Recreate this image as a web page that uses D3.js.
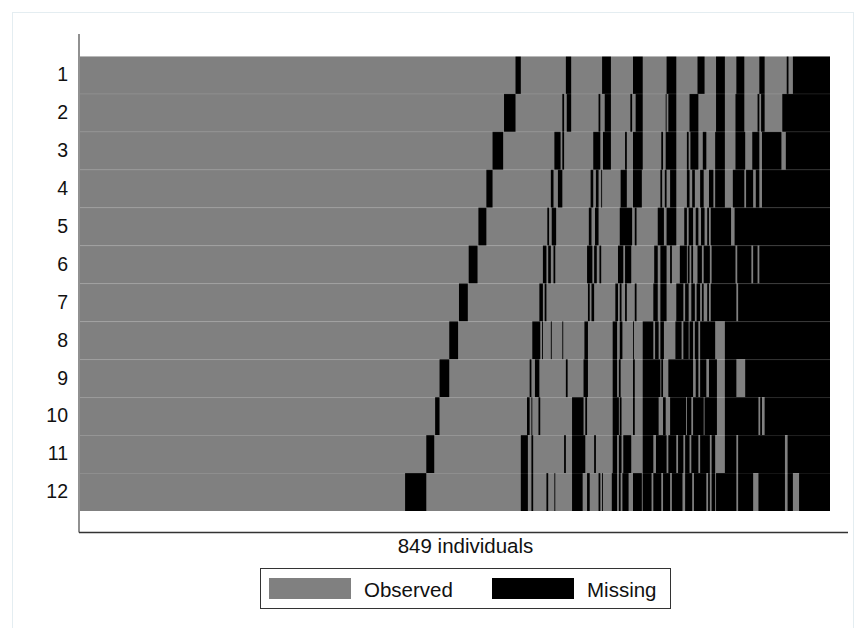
<!DOCTYPE html>
<html>
<head>
<meta charset="utf-8">
<script src="https://cdn.jsdelivr.net/npm/d3@7"></script>
<style>
  body { margin: 0; background: #fff; }
  svg { display: block; font-family: "Liberation Sans", Arial, sans-serif; }
</style>
</head>
<body>
<svg id="chart" width="859" height="628"></svg>
<script>
// number of individuals (x axis) and the 12 waves (rows)
const nIndividuals = 849;
const waves = ["1", "2", "3", "4", "5", "6", "7", "8", "9", "10", "11", "12"];

// missing stretches per wave, as [first individual, last individual)
const wave1 = [[493,499],[550,556],[591,601],[626,637],[664,675],[699,707],[720,730],[743,752],[769,775],[800,802],[807,849]];
const wave2 = [[480,493],[546,548],[551,556],[587,589],[594,601],[623,625],[629,637],[663,664],[666,675],[690,700],[720,730],[742,752],[767,769],[771,775],[795,849]];
const wave3 = [[467,479],[537,544],[546,548],[581,589],[592,601],[617,619],[626,637],[658,660],[663,675],[687,689],[691,700],[705,709],[719,730],[742,753],[761,769],[772,794],[799,849]];
const wave4 = [[460,467],[533,536],[541,546],[578,581],[584,587],[590,591],[612,619],[626,636],[657,659],[662,664],[668,675],[687,690],[693,696],[702,706],[712,717],[719,730],[739,752],[754,762],[765,769],[772,849]];
const wave5 = [[451,460],[529,531],[534,539],[576,579],[583,587],[611,625],[628,630],[654,661],[664,675],[684,687],[689,694],[697,700],[703,707],[710,712],[714,737],[741,849]];
const wave6 = [[440,450],[524,528],[530,533],[536,538],[574,580],[582,585],[588,590],[609,615],[617,624],[650,654],[657,664],[668,670],[679,687],[688,690],[692,694],[699,704],[706,713],[715,742],[744,760],[762,767],[769,849]];
const wave7 = [[429,439],[520,524],[526,528],[575,577],[579,582],[606,609],[611,613],[617,619],[628,630],[649,654],[657,664],[675,683],[685,689],[692,696],[698,702],[704,706],[710,712],[714,743],[745,849]];
const wave8 = [[418,428],[512,521],[523,524],[533,534],[546,547],[571,575],[603,608],[611,614],[626,627],[637,649],[651,655],[657,661],[674,681],[683,689],[690,694],[696,700],[702,719],[730,849]];
const wave9 = [[407,418],[509,511],[515,520],[550,552],[570,575],[603,608],[610,612],[626,628],[637,657],[658,660],[666,694],[697,700],[702,709],[712,721],[730,743],[753,849]];
const wave10 = [[402,407],[506,509],[511,512],[519,521],[557,570],[572,574],[603,610],[611,613],[626,628],[637,655],[660,663],[668,686],[687,692],[694,706],[707,721],[730,768],[770,772],[775,849]];
const wave11 = [[392,401],[499,507],[511,513],[548,550],[557,572],[582,584],[603,608],[610,613],[615,624],[637,649],[652,664],[666,675],[677,683],[685,690],[692,700],[702,713],[715,719],[730,743],[745,798],[801,849]];
const wave12 = [[368,392],[499,507],[511,513],[528,530],[537,538],[557,569],[574,577],[587,589],[591,592],[602,608],[610,612],[614,621],[626,636],[637,647],[649,658],[660,668],[670,682],[685,693],[695,709],[711,713],[715,719],[720,743],[745,762],[768,798],[801,807],[814,849]];

const missingByWave = [wave1, wave2, wave3, wave4, wave5, wave6, wave7, wave8, wave9, wave10, wave11, wave12];

const legendItems = ["Observed", "Missing"];
const observedColor = "#808080";
const missingColor = "#000000";

const svg = d3.select("#chart");

// outer graph region frame
svg.append("rect")
    .attr("x", 12.5).attr("y", 12.5)
    .attr("width", 841).attr("height", 620)
    .attr("fill", "#fff")
    .attr("stroke", "#e4edf1");

const x = d3.scaleLinear().domain([0, nIndividuals]).range([80, 830]);
const y = d3.scaleBand().domain(waves).range([56, 511]).padding(0);

// one gray bar per wave, black pieces on top for the missing stretches
const rowsG = svg.append("g");
waves.forEach((w, i) => {
    const g = rowsG.append("g");
    g.append("rect")
        .attr("x", x(0))
        .attr("y", y(w))
        .attr("width", x(nIndividuals) - x(0))
        .attr("height", y.bandwidth())
        .attr("fill", observedColor);
    g.selectAll("rect.miss")
        .data(missingByWave[i])
        .enter()
        .append("rect")
        .attr("class", "miss")
        .attr("x", d => x(d[0]))
        .attr("y", y(w))
        .attr("width", d => x(d[1]) - x(d[0]))
        .attr("height", y.bandwidth())
        .attr("fill", missingColor);
});

// faint row separators
svg.append("g").selectAll("line")
    .data(waves)
    .enter()
    .append("line")
    .attr("x1", x(0)).attr("x2", x(nIndividuals))
    .attr("y1", d => y(d) + 0.5).attr("y2", d => y(d) + 0.5)
    .attr("stroke", "#fff")
    .attr("stroke-opacity", d => d === "1" ? 0.45 : 0.045);

// axes
const yAxis = d3.axisLeft(y).tickSize(0).tickPadding(11);
const yg = svg.append("g")
    .attr("transform", "translate(79,0)")
    .call(yAxis);
yg.select(".domain").remove();
yg.selectAll("text")
    .attr("font-size", 19.5)
    .attr("font-family", "Liberation Sans, Arial, sans-serif")
    .attr("fill", "#111");

svg.append("line")
    .attr("x1", 79).attr("x2", 79)
    .attr("y1", 34).attr("y2", 532.5)
    .attr("stroke", "#555").attr("stroke-width", 1.3);
svg.append("line")
    .attr("x1", 79).attr("x2", 848)
    .attr("y1", 532.5).attr("y2", 532.5)
    .attr("stroke", "#333").attr("stroke-width", 1.3);

svg.append("text")
    .attr("x", (79 + 848) / 2 + 2)
    .attr("y", 553)
    .attr("text-anchor", "middle")
    .attr("font-size", 20.5)
    .attr("fill", "#111")
    .text(nIndividuals + " individuals");

// legend
const legend = svg.append("g");
legend.append("rect")
    .attr("x", 260.5).attr("y", 568.5)
    .attr("width", 410).attr("height", 40)
    .attr("fill", "#fff")
    .attr("stroke", "#333");

const legendX = [269, 492];
legendItems.forEach((name, i) => {
    legend.append("rect")
        .attr("x", legendX[i]).attr("y", 578)
        .attr("width", 82).attr("height", 21)
        .attr("fill", i === 0 ? observedColor : missingColor);
    legend.append("text")
        .attr("x", legendX[i] + 95)
        .attr("y", 596.5)
        .attr("font-size", 20.5)
        .attr("fill", "#111")
        .text(name);
});
</script>
</body>
</html>
